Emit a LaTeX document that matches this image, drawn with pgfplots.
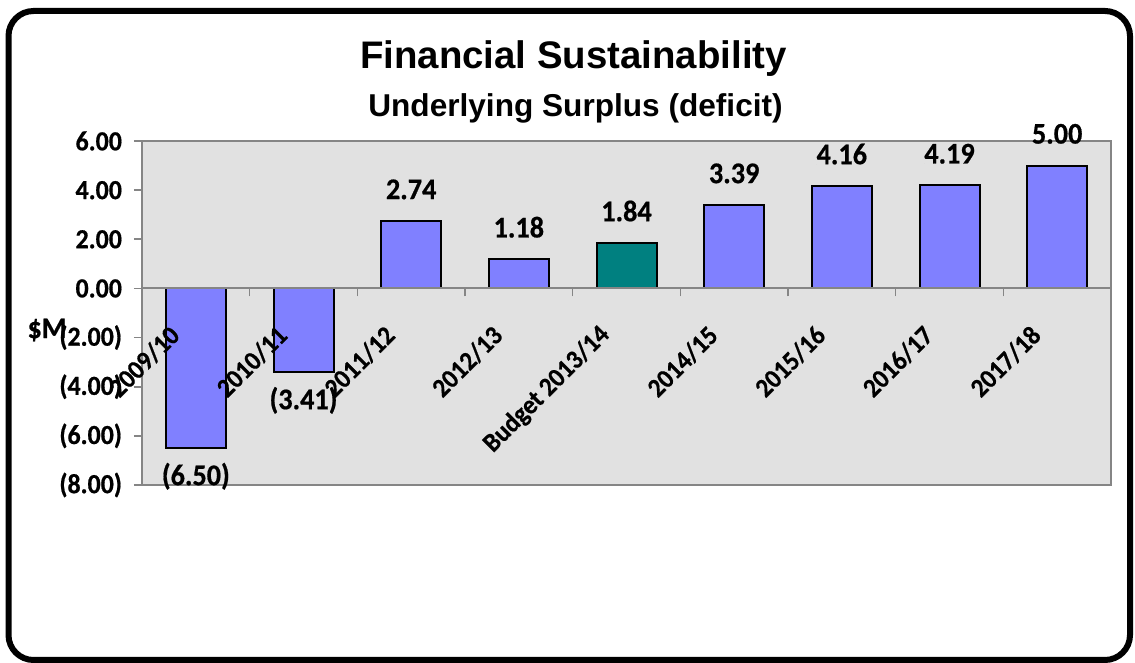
\documentclass[border=0pt]{standalone}
\usepackage{fontspec}
\setmainfont{Liberation Sans}
\newfontfamily\carlito[FakeStretch=0.94,FakeBold=0.6]{Carlito Bold}
\usepackage{pgfplots}
\pgfplotsset{compat=1.18}
\definecolor{plotbg}{HTML}{E1E1E1}
\definecolor{barblue}{HTML}{8080FF}
\definecolor{barteal}{HTML}{008080}
\definecolor{axgray}{HTML}{858585}
\begin{document}
\begin{tikzpicture}
\useasboundingbox (0,0) rectangle (567.5pt,331.5pt);
\fill[white] (0,0) rectangle (567.5pt,331.5pt);
\begin{axis}[
  at={(71pt,89pt)}, anchor=south west,
  scale only axis, width=484.5pt, height=172pt,
  xmin=-0.5, xmax=8.5, ymin=-8, ymax=6,
  axis background/.style={fill=plotbg},
  axis line style={draw=axgray, line width=1pt},
  xtick=\empty,
  ytick={-8,-6,-4,-2,0,2,4,6},
  yticklabels={(8.00),(6.00),(4.00),(2.00),0.00,2.00,4.00,6.00},
  ytick pos=left, tick align=outside,
  major tick length=4pt,
  tick style={draw=axgray, line width=0.8pt},
  yticklabel style={font=\carlito\fontsize{13.8}{13}\selectfont, anchor=east, xshift=-2.5pt},
  ybar, bar width=30pt, bar shift=0pt,
  point meta=explicit symbolic,
  nodes near coords,
  every node near coord/.append style={font=\carlito\fontsize{15}{14}\selectfont, anchor=base, text=black},
]
\addplot[fill=barblue, draw=black, line width=1pt,
  every node near coord/.append style={yshift=11pt}]
  coordinates {(2,2.74)[2.74] (3,1.18)[1.18] (5,3.39)[3.39] (6,4.16)[4.16] (7,4.19)[4.19] (8,5.00)[5.00]};
\addplot[fill=barteal, draw=black, line width=1pt,
  every node near coord/.append style={yshift=11pt}]
  coordinates {(4,1.84)[1.84]};
\addplot[fill=barblue, draw=black, line width=1pt,
  every node near coord/.append style={yshift=-18.5pt}]
  coordinates {(0,-6.50)[(6.50)] (1,-3.41)[(3.41)]};
\end{axis}
\begin{axis}[
  at={(71pt,89pt)}, anchor=south west,
  scale only axis, width=484.5pt, height=172pt,
  xmin=-0.5, xmax=8.5, ymin=-8, ymax=6,
  axis x line=middle, axis y line=none,
  hide obscured x ticks=false,
  x axis line style={-, draw=axgray, line width=1pt},
  xtick={0,...,8},
  xticklabels={2009/10,2010/11,2011/12,2012/13,Budget 2013/14,2014/15,2015/16,2016/17,2017/18},
  major x tick style={draw=none},
  minor xtick={0.5,1.5,...,8.5},
  minor tick length=4pt,
  minor x tick style={draw=axgray, line width=0.8pt},
  xtick align=outside,
  xticklabel style={font=\carlito\fontsize{13.3}{12}\selectfont, xshift=-8pt, yshift=-14.5pt, rotate=45, anchor=east},
]
\addplot[draw=none] coordinates {(0,0)};
\end{axis}
\node[font=\bfseries\fontsize{19.2}{20}\selectfont] at (286.75pt,302pt) {Financial Sustainability};
\node[font=\bfseries\fontsize{15.8}{17}\selectfont] at (287.75pt,277.5pt) {Underlying Surplus (deficit)};
\node[font=\carlito\fontsize{15}{14}\selectfont] at (23.5pt,166.5pt) {\$M};
\draw[line width=3pt, rounded corners=12.5pt] (4.25pt,1.5pt) rectangle (565pt,326pt);
\end{tikzpicture}
\end{document}
